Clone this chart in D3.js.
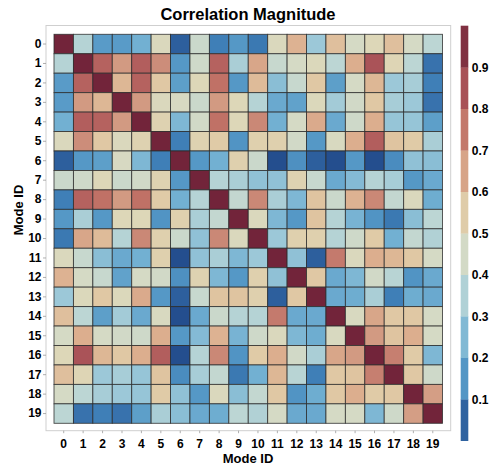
<!DOCTYPE html>
<html>
<head>
<meta charset="utf-8">
<script src="https://cdn.jsdelivr.net/npm/d3@7"></script>
<style>
  html, body { margin: 0; padding: 0; background: #ffffff; }
  svg { display: block; font-family: "Liberation Sans", Arial, sans-serif; }
</style>
</head>
<body>
<svg id="chart" width="493" height="470"></svg>
<script>
// Mode indices shown on both axes
const modes = d3.range(20);

// Pairwise correlation magnitudes between modes (row i, column j)
const corr = [
  [1.00, .38, .18, .18, .24, .50, .06, .44, .11, .17, .10, .50, .63, .31, .60, .47, .52, .60, .47, .40],
  [.38, 1.00, .82, .69, .83, .72, .17, .45, .82, .35, .66, .43, .47, .51, .40, .64, .86, .53, .40, .09],
  [.18, .82, 1.00, .62, .82, .58, .19, .52, .78, .17, .61, .28, .43, .58, .19, .47, .62, .31, .34, .11],
  [.18, .69, .62, 1.00, .69, .50, .48, .44, .69, .52, .38, .22, .20, .51, .33, .46, .58, .34, .31, .09],
  [.24, .83, .82, .69, 1.00, .54, .26, .46, .78, .52, .73, .24, .47, .65, .22, .45, .64, .30, .30, .19],
  [.50, .72, .58, .50, .54, 1.00, .11, .54, .57, .16, .55, .55, .46, .17, .49, .64, .83, .59, .57, .35],
  [.06, .17, .19, .48, .26, .11, 1.00, .17, .24, .55, .44, .02, .15, .06, .02, .17, .02, .14, .29, .28],
  [.44, .45, .52, .44, .46, .54, .17, 1.00, .38, .35, .29, .29, .54, .43, .22, .27, .38, .34, .17, .22],
  [.11, .82, .78, .69, .78, .57, .24, .38, 1.00, .42, .73, .35, .26, .59, .44, .63, .73, .42, .50, .23],
  [.17, .35, .17, .52, .52, .16, .55, .35, .42, 1.00, .50, .26, .17, .59, .38, .25, .16, .10, .28, .40],
  [.10, .66, .61, .38, .73, .55, .44, .29, .73, .50, 1.00, .31, .55, .55, .38, .45, .57, .24, .42, .37],
  [.50, .43, .28, .22, .24, .55, .02, .29, .35, .26, .31, 1.00, .29, .06, .76, .50, .64, .62, .58, .47],
  [.63, .47, .43, .20, .47, .46, .15, .54, .26, .17, .55, .29, 1.00, .58, .22, .26, .46, .39, .16, .22],
  [.31, .51, .58, .51, .65, .17, .06, .43, .59, .59, .55, .06, .58, 1.00, .22, .23, .35, .11, .23, .22],
  [.60, .40, .19, .33, .22, .49, .02, .22, .44, .38, .38, .76, .22, .22, 1.00, .49, .66, .58, .58, .47],
  [.47, .64, .47, .46, .45, .64, .17, .27, .63, .25, .45, .50, .26, .23, .49, 1.00, .69, .59, .64, .47],
  [.52, .86, .62, .58, .64, .83, .02, .38, .73, .16, .57, .64, .46, .35, .66, .69, 1.00, .75, .57, .26],
  [.60, .53, .31, .34, .30, .59, .14, .34, .42, .10, .24, .62, .39, .11, .58, .59, .75, 1.00, .58, .45],
  [.47, .40, .34, .31, .30, .57, .29, .17, .50, .28, .42, .58, .16, .23, .58, .64, .57, .58, 1.00, .68],
  [.40, .09, .11, .09, .19, .35, .28, .22, .23, .40, .37, .47, .22, .22, .47, .47, .26, .45, .68, 1.00]
];

// Colour bar tick labels
const legendTicks = [0.1, 0.2, 0.3, 0.4, 0.5, 0.6, 0.7, 0.8, 0.9];

// Blue -> beige -> red tones
const colorStops = [0, 0.06, 0.11, 0.17, 0.24, 0.31, 0.40, 0.47, 0.52, 0.58, 0.64, 0.70, 0.78, 0.86, 1.0];
const colorValues = ["#1f4587", "#2d5f9d", "#3f7fb7", "#5598c6", "#72b0d2", "#9cc8d8", "#bcd6d4",
                     "#d5dac5", "#ddd7b8", "#e0c8a4", "#dcae8e", "#d09680", "#c07166", "#aa5358", "#72243a"];
const color = d3.scaleLinear().domain(colorStops).range(colorValues).interpolate(d3.interpolateRgb).clamp(true);

const svg = d3.select("#chart");
const font = "'Liberation Sans', Arial, sans-serif";

// Plot frame
const frame = { left: 46, top: 25.5, right: 450.7, bottom: 430.7 };
svg.append("rect")
  .attr("x", frame.left).attr("y", frame.top)
  .attr("width", frame.right - frame.left).attr("height", frame.bottom - frame.top)
  .attr("fill", "none").attr("stroke", "#cfcfcf").attr("stroke-width", 1);

// Cell scales
const x = d3.scaleBand().domain(modes).range([54, 442.5]).padding(0);
const y = d3.scaleBand().domain(modes).range([34.3, 423.3]).padding(0);

const cells = [];
corr.forEach((row, i) => row.forEach((v, j) => cells.push({ i, j, v })));

svg.append("g").selectAll("rect").data(cells).join("rect")
  .attr("x", d => x(d.j))
  .attr("y", d => y(d.i))
  .attr("width", x.bandwidth())
  .attr("height", y.bandwidth())
  .attr("fill", d => color(d.v))
  .attr("stroke", "#2b2b2b")
  .attr("stroke-opacity", 0.85)
  .attr("stroke-width", 0.9);

// Axes with small outward ticks on the frame
const yAxis = svg.append("g")
  .attr("transform", `translate(${frame.left},0)`)
  .call(d3.axisLeft(y).tickSize(3).tickPadding(1.5));
const xAxis = svg.append("g")
  .attr("transform", `translate(0,${frame.bottom})`)
  .call(d3.axisBottom(x).tickSize(2.5).tickPadding(6));

[xAxis, yAxis].forEach(g => {
  g.select(".domain").remove();
  g.selectAll(".tick line").attr("stroke", "#9a9a9a").attr("stroke-width", 0.8);
  g.selectAll(".tick text")
    .attr("fill", "#000")
    .style("font-family", font)
    .style("font-size", "12px")
    .style("font-weight", "bold");
});

// Title and axis titles
svg.append("text")
  .attr("x", 248).attr("y", 20)
  .attr("text-anchor", "middle")
  .style("font-family", font).style("font-size", "16.5px").style("font-weight", "bold")
  .text("Correlation Magnitude");

svg.append("text")
  .attr("x", 248).attr("y", 463)
  .attr("text-anchor", "middle")
  .style("font-family", font).style("font-size", "13px").style("font-weight", "bold")
  .text("Mode ID");

svg.append("text")
  .attr("transform", "translate(23,210) rotate(-90)")
  .attr("text-anchor", "middle")
  .style("font-family", font).style("font-size", "13px").style("font-weight", "bold")
  .text("Mode ID");

// Colour bar in ten bands, each filled with a tone from inside its range
const legendY = d3.scaleLinear().domain([0, 1]).range([440.7, 25.7]);
const bands = d3.range(10).map(k => ({ lo: k / 10, hi: (k + 1) / 10 }));
const legend = svg.append("g");
legend.selectAll("rect").data(bands).join("rect")
  .attr("x", 460.7)
  .attr("y", d => legendY(d.hi))
  .attr("width", 7.6)
  .attr("height", d => legendY(d.lo) - legendY(d.hi) + 0.3)
  .attr("fill", d => color(d.lo + 0.065));

const legendAxis = svg.append("g")
  .attr("transform", "translate(468.3,0)")
  .call(d3.axisRight(legendY).tickValues(legendTicks).tickSize(0).tickPadding(3.5).tickFormat(d3.format(".1f")));
legendAxis.select(".domain").remove();
legendAxis.selectAll(".tick text")
  .attr("fill", "#000")
  .style("font-family", font)
  .style("font-size", "12px")
  .style("font-weight", "bold");
</script>
</body>
</html>
